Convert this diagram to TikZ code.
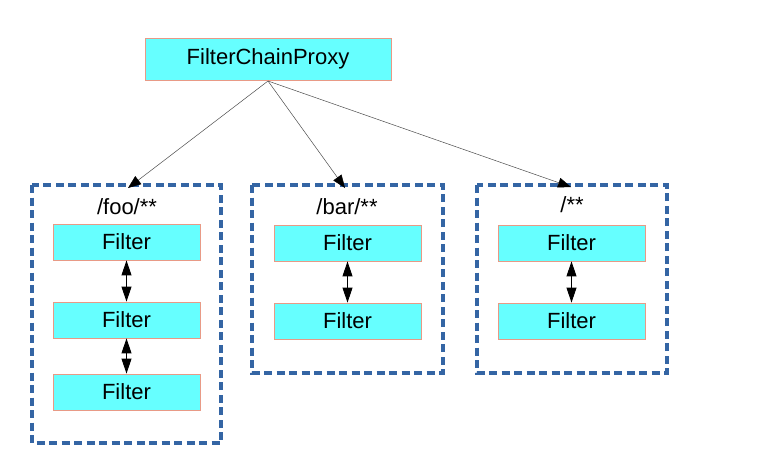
\documentclass[tikz,border=0pt]{standalone}
\usepackage{fontspec}
\setmainfont{Liberation Sans}
\usetikzlibrary{arrows.meta}
\definecolor{cyanfill}{HTML}{66FFFF}
\definecolor{boxedge}{HTML}{E89A86}
\definecolor{groupblue}{HTML}{3465A4}
\begin{document}
\begin{tikzpicture}[x=1pt,y=-1pt,
  txt/.style={font=\fontsize{22}{26}\selectfont},
  filterbox/.style={txt, draw=boxedge, line width=0.8pt, fill=cyanfill,
    minimum width=147pt, minimum height=36pt, inner sep=0pt},
  proxybox/.style={filterbox, minimum width=246pt, minimum height=42pt},
  groupbox/.style={draw=groupblue, line width=3.4pt, dash pattern=on 8pt off 4.5pt},
  fanout/.style={draw=black!70, line width=0.5pt,
    -{Triangle[length=13pt,width=10pt,color=black,fill=black]}},
  chain/.style={draw=black, line width=0.9pt,
    {Triangle[length=15pt,width=10pt]}-{Triangle[length=15pt,width=10pt]}}]
\useasboundingbox (0,0) rectangle (775,459);

% entry point
\node[proxybox] (proxy) at (268,59) {FilterChainProxy};
\coordinate (fan) at (268,81);

% path groups
\draw[groupbox] (32,185) rectangle (221,443);
\draw[groupbox] (252,185) rectangle (443,373);
\draw[groupbox] (477,185) rectangle (667,373);
\coordinate (g1) at (128,188);
\coordinate (g2) at (345,188);
\coordinate (g3) at (571,187);

\node[txt] (l1) at (127,207) {/foo/**};
\node[txt] (l2) at (347,207) {/bar/**};
\node[txt] (l3) at (572,205) {/**};

% filters of /foo/**
\node[filterbox] (f11) at (126.5,242) {Filter};
\node[filterbox] (f12) at (126.5,320) {Filter};
\node[filterbox] (f13) at (126.5,392) {Filter};
% filters of /bar/**
\node[filterbox] (f21) at (347.5,243) {Filter};
\node[filterbox] (f22) at (347.5,321) {Filter};
% filters of /**
\node[filterbox] (f31) at (571.5,243) {Filter};
\node[filterbox] (f32) at (571.5,321) {Filter};

% dispatch from the proxy
\draw[fanout] (fan) -- (g1);
\draw[fanout] (fan) -- (g2);
\draw[fanout] (fan) -- (g3);

% links inside each chain
\draw[chain] (f11) -- (f12);
\draw[chain] (f12) -- (f13);
\draw[chain] (f21) -- (f22);
\draw[chain] (f31) -- (f32);
\end{tikzpicture}
\end{document}
